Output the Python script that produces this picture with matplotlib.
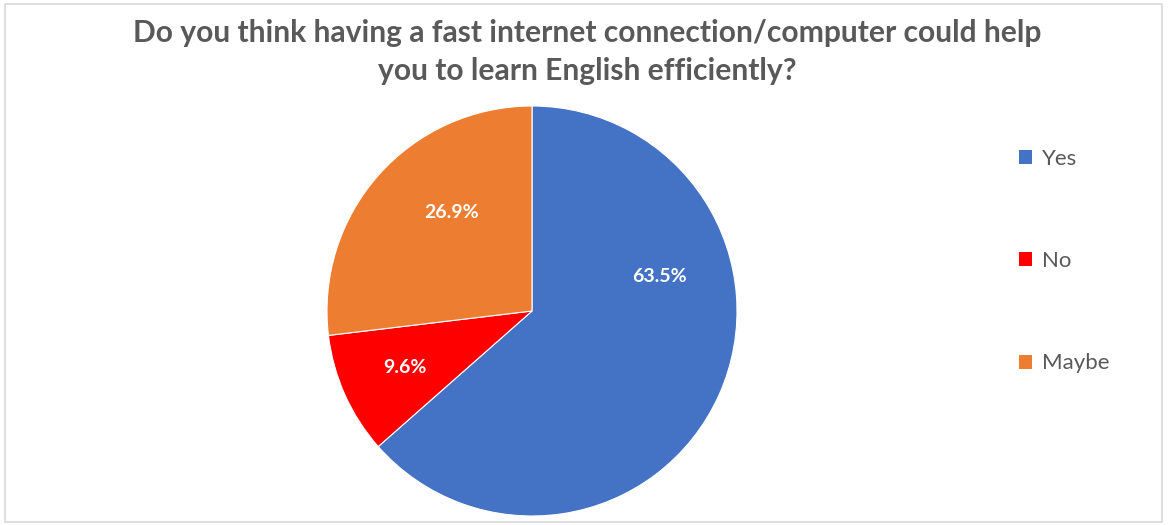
import matplotlib
matplotlib.use("Agg")
import numpy as np
import matplotlib.pyplot as plt
from matplotlib.patches import Rectangle, Patch

categories = ["Yes", "No", "Maybe"]
values = [63.5, 9.6, 26.9]
colors = ["#4472C4", "#FF0000", "#ED7D31"]
title = "Do you think having a fast internet connection/computer could help\nyou to learn English efficiently?"

plt.rcParams['font.family'] = ['Lato', 'DejaVu Sans']

W, H = 1169, 525
fig = plt.figure(figsize=(W / 100, H / 100), dpi=100)

# border
fig.patches.append(Rectangle((5 / W, 3 / H), 1157 / W, 518 / H, transform=fig.transFigure,
                             fill=False, edgecolor="#D9D9D9", linewidth=1.2))

cx, cy, r = 532, 525 - 311, 205
ax = fig.add_axes([(cx - r) / W, (cy - r) / H, 2 * r / W, 2 * r / H])
wedges, texts, autotexts = ax.pie(values, colors=colors, startangle=90, counterclock=False,
                                  autopct=lambda p: f"{p:.1f}%", pctdistance=0.68,
                                  wedgeprops=dict(linewidth=0.8, edgecolor="white"),
                                  textprops=dict(color="white", fontsize=14, fontweight="bold"))
# Excel "best fit" style placement for the large slice label
ang = np.deg2rad(15)
autotexts[0].set_position((0.645 * np.cos(ang), 0.645 * np.sin(ang)))
ang2 = np.deg2rad(129)
autotexts[2].set_position((0.62 * np.cos(ang2), 0.62 * np.sin(ang2)))
ax.set_xlim(-1, 1)
ax.set_ylim(-1, 1)
ax.set_aspect("equal")
ax.axis("off")

fig.text(0.502, 1 - 52 / H, title, ha="center", va="center", fontsize=21.6, fontweight="bold",
         color="#595959", linespacing=1.42)

handles = [Patch(facecolor=c, edgecolor="none") for c in colors]
leg = fig.legend(handles, categories, loc="upper left", bbox_to_anchor=(999 / W, 1 - 129 / H),
                 frameon=False, fontsize=16, labelcolor="#595959", labelspacing=3.7,
                 handlelength=0.6, handleheight=0.6, handletextpad=0.45)

fig.savefig("out.png", dpi=100, facecolor="white")
